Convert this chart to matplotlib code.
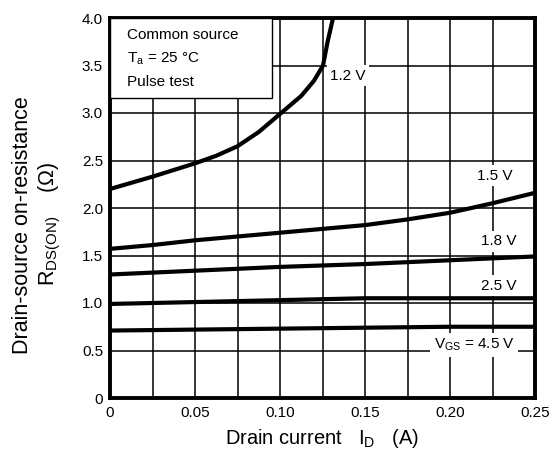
import matplotlib
matplotlib.use("Agg")
import matplotlib.pyplot as plt
from matplotlib.patches import Rectangle
from matplotlib.ticker import MultipleLocator

plt.rcParams['font.family'] = ['Liberation Sans', 'DejaVu Sans']
plt.rcParams['mathtext.fontset'] = 'custom'
plt.rcParams['mathtext.rm'] = 'Liberation Sans'
plt.rcParams['mathtext.it'] = 'Liberation Sans:italic'

# curves, I_D (A) vs R_DS(ON) (ohm)
id_12 = [0.0, 0.025, 0.05, 0.0625, 0.075, 0.0875, 0.10, 0.1125, 0.12, 0.1253, 0.128, 0.1312]
r_12 = [2.2, 2.33, 2.47, 2.55, 2.65, 2.80, 2.99, 3.18, 3.34, 3.5, 3.75, 4.0]

id_15 = [0.0, 0.025, 0.05, 0.075, 0.10, 0.125, 0.15, 0.175, 0.20, 0.225, 0.25]
r_15 = [1.57, 1.61, 1.66, 1.70, 1.74, 1.78, 1.82, 1.88, 1.95, 2.05, 2.16]

id_18 = [0.0, 0.05, 0.10, 0.15, 0.20, 0.25]
r_18 = [1.30, 1.34, 1.38, 1.41, 1.45, 1.49]

id_25 = [0.0, 0.05, 0.10, 0.15, 0.20, 0.25]
r_25 = [0.99, 1.01, 1.03, 1.05, 1.05, 1.05]

id_45 = [0.0, 0.05, 0.10, 0.15, 0.20, 0.25]
r_45 = [0.71, 0.72, 0.73, 0.74, 0.75, 0.75]

xticks = [0, 0.05, 0.10, 0.15, 0.20, 0.25]
xlabels = ['0', '0.05', '0.10', '0.15', '0.20', '0.25']
yticks = [0, 0.5, 1.0, 1.5, 2.0, 2.5, 3.0, 3.5, 4.0]
ylabels = ['0', '0.5', '1.0', '1.5', '2.0', '2.5', '3.0', '3.5', '4.0']

fig = plt.figure(figsize=(5.5, 4.76), dpi=100)
ax = fig.add_axes([110/550, 1 - 398/476, 425/550, 380/476])

ax.set_xlim(0, 0.25)
ax.set_ylim(0, 4.0)
ax.set_xticks(xticks)
ax.set_xticklabels(xlabels)
ax.set_yticks(yticks)
ax.set_yticklabels(ylabels)
ax.xaxis.set_minor_locator(MultipleLocator(0.025))
ax.tick_params(which='both', length=0, labelsize=11, colors='black')
ax.tick_params(axis='x', pad=6)
ax.tick_params(axis='y', pad=5)
ax.grid(which='both', color='black', linewidth=1.1)
ax.set_axisbelow(True)
for s in ax.spines.values():
    s.set_linewidth(2.8)

lw = 3.0
for xs, ys in [(id_12, r_12), (id_15, r_15), (id_18, r_18), (id_25, r_25), (id_45, r_45)]:
    ax.plot(xs, ys, color='black', linewidth=lw, solid_capstyle='butt',
            solid_joinstyle='round', zorder=5)

# condition box
ax.add_patch(Rectangle((0, 3.16), 0.0953, 0.84, facecolor='white',
                       edgecolor='black', linewidth=1.0, zorder=3))
ax.text(0.01, 3.82, 'Common source', fontsize=11, va='center', zorder=4)
ax.text(0.01, 3.57, r'T$_{\mathrm{a}}$ = 25 °C', fontsize=11, va='center', zorder=4)
ax.text(0.01, 3.33, 'Pulse test', fontsize=11, va='center', zorder=4)

bb = dict(facecolor='white', edgecolor='none', pad=2.5)
ax.text(0.1295, 3.39, '1.2 V', fontsize=11, va='center', bbox=bb, zorder=4)
ax.text(0.2160, 2.34, '1.5 V', fontsize=11, va='center', bbox=bb, zorder=4)
ax.text(0.2180, 1.65, '1.8 V', fontsize=11, va='center', bbox=bb, zorder=4)
ax.text(0.2180, 1.18, '2.5 V', fontsize=11, va='center', bbox=bb, zorder=4)
ax.text(0.1905, 0.56, r'V$_{\mathrm{GS}}$ = 4.5 V', fontsize=11, va='center', bbox=bb, zorder=4)

fig.text(322/550, 1 - 438/476, r'Drain current   I$_{\mathrm{D}}$   (A)', fontsize=14.5,
         ha='center', va='center')
fig.text(23/550, 1 - 225/476, 'Drain-source on-resistance', fontsize=15.5,
         rotation=90, ha='center', va='center')
fig.text(50/550, 1 - 224/476, r'R$_{\mathrm{DS(ON)}}$    ($\Omega$)', fontsize=15.5,
         rotation=90, ha='center', va='center')

fig.savefig('out.png', dpi=100)
